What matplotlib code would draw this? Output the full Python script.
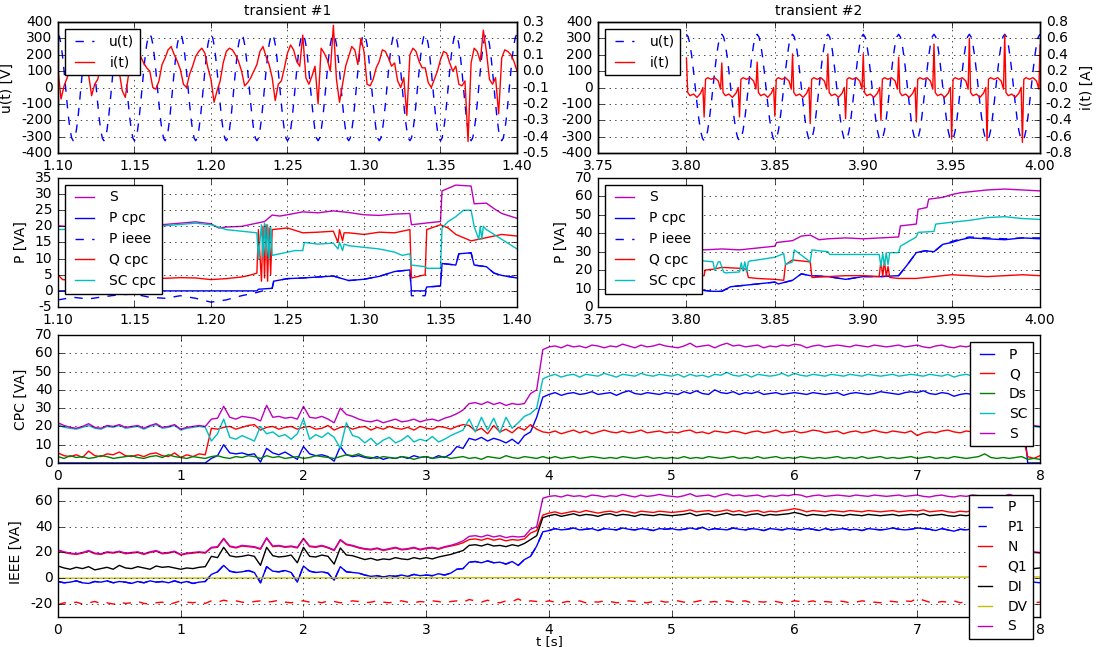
import matplotlib
matplotlib.use('Agg')
import matplotlib.pyplot as plt
import numpy as np

plt.style.use('classic')
plt.rcParams['font.size'] = 10
plt.rcParams['legend.fontsize'] = 10
plt.rcParams['axes.titlesize'] = 10
plt.rcParams['axes.unicode_minus'] = False
plt.rcParams['figure.facecolor'] = 'white'
plt.rcParams['savefig.facecolor'] = 'white'

# ---- top row: voltage / current waveforms ----
# one period of u(t) sampled every 1 ms (starting at a peak)
u_cycle = [325, 309, 263, 191, 100, 0, -100, -191, -263, -309,
           -325, -309, -263, -191, -100, 0, 100, 191, 263, 309]

# transient #1 current, every 2 ms from 1.10 s to 1.40 s
i1 = [0.01, -0.17, -0.09, -0.04, 0.02, 0.04, 0.08, 0.11, 0.09, 0.03,
      -0.02, -0.15, -0.08, -0.05, 0.03, 0.06, 0.10, 0.12, 0.07, 0.02,
      0.00, -0.12, -0.16, -0.03, 0.01, 0.07, 0.10, 0.09, 0.05, 0.02,
      0.00, -0.10, -0.11, -0.06, 0.04, 0.08, 0.13, 0.15, 0.10, 0.06,
      0.01, -0.08, -0.10, -0.02, 0.03, 0.09, 0.12, 0.14, 0.11, 0.02,
      -0.05, -0.19, -0.12, -0.06, 0.05, 0.12, 0.14, 0.13, 0.10, 0.06,
      0.00, -0.09, -0.07, -0.04, 0.00, 0.04, 0.12, 0.15, 0.09, 0.04,
      -0.04, -0.18, -0.08, -0.06, 0.02, 0.11, 0.16, 0.13, 0.06, 0.03,
      0.22, -0.04, -0.08, -0.03, 0.03, -0.20, 0.14, 0.11, 0.07, 0.00,
      0.28, -0.05, -0.19, -0.08, 0.03, 0.09, 0.15, 0.13, 0.04, 0.20,
      0.12, -0.08, -0.09, -0.05, 0.02, 0.06, 0.13, 0.12, 0.08, 0.03,
      0.05, -0.06, -0.10, -0.04, -0.27, 0.10, 0.14, 0.12, 0.06, 0.02,
      0.02, -0.07, -0.10, -0.05, 0.00, 0.07, 0.12, 0.11, 0.05, 0.00,
      0.03, -0.08, -0.09, -0.06, -0.43, 0.05, 0.14, 0.12, 0.06, 0.25,
      0.12, -0.05, -0.08, -0.04, -0.26, 0.08, 0.13, 0.12, 0.10, 0.06,
      0.00]

# transient #2 current: shape of one period (ms offsets) + spike heights per period
i2_off_ms = [0.0, 0.7, 2.0, 4.0, 6.0, 8.0, 9.3, 10.0, 10.8, 12.0, 14.0, 16.0, 18.0, 19.3]
i2_shape = [0.0, -0.06, -0.10, -0.08, -0.12, -0.07, 0.0, 0.0, 0.10, 0.12, 0.10, 0.12, 0.08, -0.02]
i2_pos_spike = [0.36, 0.30, 0.31, 0.41, 0.41, 0.41, 0.37, 0.53, 0.60, 0.64]
i2_neg_spike = [-0.36, -0.36, -0.35, -0.44, -0.38, -0.40, -0.42, -0.63, -0.65, -0.67]
i2_end = 0.52

# ---- second row: powers in the two transients ----
tr1_s_t = [1.100, 1.110, 1.120, 1.130, 1.140, 1.150, 1.160, 1.170, 1.180, 1.190,
           1.200, 1.205, 1.210, 1.220, 1.230, 1.235, 1.240, 1.245, 1.250, 1.260,
           1.270, 1.280, 1.290, 1.300, 1.310, 1.320, 1.330, 1.331, 1.340, 1.350,
           1.351, 1.360, 1.370, 1.372, 1.380, 1.385, 1.390, 1.400]
tr1_s = [20.2, 19.8, 19.6, 19.9, 19.8, 19.9, 20.3, 20.6, 21.0, 21.4,
         20.8, 19.5, 19.8, 20.0, 21.0, 21.5, 23.5, 23.2, 23.6, 24.5,
         24.2, 24.8, 24.3, 23.6, 23.4, 23.8, 24.0, 20.5, 21.0, 21.5,
         31.0, 32.8, 32.5, 27.0, 27.2, 25.5, 24.0, 22.5]
tr1_sc_t = [1.100, 1.120, 1.150, 1.170, 1.190, 1.200, 1.210, 1.220, 1.230, 1.231,
            1.233, 1.234, 1.235, 1.236, 1.237, 1.238, 1.239, 1.240, 1.245, 1.250,
            1.255, 1.260, 1.261, 1.270, 1.280, 1.283, 1.284, 1.286, 1.287, 1.290,
            1.300, 1.310, 1.320, 1.325, 1.330, 1.331, 1.340, 1.341, 1.350, 1.351,
            1.355, 1.360, 1.365, 1.370, 1.372, 1.375, 1.376, 1.377, 1.378, 1.380,
            1.390, 1.400]
tr1_sc = [19.0, 19.3, 19.8, 20.2, 21.0, 20.5, 19.0, 18.5, 18.0, 10.0,
          20.5, 10.5, 21.0, 11.0, 20.5, 10.0, 20.0, 11.0, 11.5, 12.0,
          12.5, 12.5, 15.0, 14.5, 14.8, 13.0, 15.0, 12.5, 14.5, 14.0,
          13.5, 13.0, 12.0, 11.0, 11.5, 8.0, 7.5, 7.0, 7.0, 19.5,
          21.5, 23.0, 25.0, 25.0, 20.0, 16.0, 20.0, 16.0, 20.0, 19.0,
          16.0, 13.0]
tr1_p_t = [1.100, 1.230, 1.231, 1.240, 1.241, 1.250, 1.260, 1.270, 1.280, 1.290,
           1.300, 1.310, 1.320, 1.330, 1.331, 1.340, 1.341, 1.350, 1.351, 1.360,
           1.362, 1.370, 1.372, 1.380, 1.385, 1.390, 1.400]
tr1_p = [0.0, 0.0, 0.5, 0.8, 3.0, 3.8, 4.0, 4.3, 4.6, 3.2,
         3.6, 4.5, 6.0, 6.5, 0.0, 0.0, 1.2, 1.5, 8.5, 8.0,
         11.5, 11.8, 8.0, 7.5, 5.5, 4.8, 4.0]
tr1_pi_t = [1.100, 1.110, 1.120, 1.130, 1.140, 1.150, 1.160, 1.170, 1.180, 1.190,
            1.200, 1.210, 1.220, 1.230, 1.240, 1.241, 1.250, 1.260, 1.270, 1.280,
            1.290, 1.300, 1.310, 1.320, 1.330, 1.331, 1.340, 1.341, 1.350, 1.351,
            1.360, 1.362, 1.370, 1.372, 1.380, 1.385, 1.390, 1.400]
tr1_pi = [-2.8, -2.0, -2.5, -1.8, -1.2, -1.0, -2.0, -2.3, -1.5, -2.3,
          -3.5, -2.8, -1.5, -0.5, 0.8, 3.0, 3.8, 4.0, 4.3, 4.6,
          3.2, 3.6, 4.5, 6.0, 6.5, -1.5, -1.5, 1.2, 1.5, 8.5,
          8.0, 11.5, 11.8, 8.0, 7.5, 5.5, 4.8, 4.0]
tr1_q_t = [1.100, 1.103, 1.110, 1.120, 1.130, 1.140, 1.150, 1.160, 1.170, 1.180,
           1.190, 1.200, 1.210, 1.220, 1.225, 1.230, 1.231, 1.233, 1.234, 1.235,
           1.236, 1.237, 1.238, 1.239, 1.240, 1.250, 1.260, 1.270, 1.280, 1.283,
           1.284, 1.286, 1.287, 1.290, 1.300, 1.310, 1.320, 1.330, 1.331, 1.340,
           1.341, 1.350, 1.355, 1.360, 1.370, 1.380, 1.390, 1.400]
tr1_q = [5.0, 3.5, 3.2, 2.8, 3.3, 3.2, 3.6, 3.8, 3.9, 4.1,
         4.0, 3.5, 3.8, 4.3, 4.8, 5.5, 19.0, 3.0, 20.0, 4.0,
         20.5, 3.0, 19.5, 5.0, 19.0, 19.5, 18.0, 18.2, 18.5, 15.0,
         19.0, 15.5, 18.0, 18.0, 17.5, 18.2, 18.0, 19.0, 4.0, 5.0,
         19.0, 20.5, 19.5, 17.5, 15.5, 16.5, 17.5, 17.0]

tr2_s_t = [3.800, 3.805, 3.810, 3.820, 3.830, 3.840, 3.850, 3.851, 3.860, 3.865,
           3.870, 3.875, 3.880, 3.890, 3.900, 3.910, 3.920, 3.921, 3.930, 3.931,
           3.936, 3.937, 3.945, 3.950, 3.955, 3.960, 3.970, 3.980, 3.990, 4.000]
tr2_s = [33.0, 32.0, 31.0, 31.5, 31.0, 32.0, 33.0, 35.0, 36.0, 38.5,
         39.0, 36.5, 37.0, 37.5, 37.0, 37.5, 38.0, 44.0, 45.0, 53.0,
         54.0, 58.5, 59.5, 61.0, 62.0, 62.5, 63.5, 64.0, 63.5, 63.0]
tr2_sc_t = [3.800, 3.810, 3.815, 3.816, 3.818, 3.819, 3.821, 3.822, 3.830, 3.831,
            3.832, 3.833, 3.834, 3.835, 3.836, 3.840, 3.850, 3.855, 3.856, 3.860,
            3.861, 3.870, 3.871, 3.875, 3.880, 3.881, 3.900, 3.909, 3.910, 3.911,
            3.912, 3.913, 3.914, 3.915, 3.920, 3.921, 3.930, 3.931, 3.940, 3.941,
            3.950, 3.960, 3.970, 3.980, 3.990, 4.000]
tr2_sc = [26.0, 25.0, 24.5, 20.0, 24.5, 24.5, 19.0, 18.5, 19.0, 24.0,
          19.5, 24.5, 19.0, 24.5, 25.0, 25.5, 27.0, 29.0, 23.0, 24.5,
          31.0, 24.5, 31.0, 30.5, 30.0, 28.5, 28.5, 28.5, 22.0, 29.0,
          22.5, 29.5, 23.0, 29.5, 29.5, 33.0, 38.0, 40.5, 41.0, 45.0,
          46.0, 47.0, 48.5, 49.0, 48.0, 47.5]
tr2_p_t = [3.800, 3.805, 3.810, 3.815, 3.820, 3.825, 3.830, 3.840, 3.850, 3.852,
           3.860, 3.865, 3.870, 3.880, 3.890, 3.900, 3.910, 3.920, 3.925, 3.930,
           3.935, 3.940, 3.945, 3.950, 3.955, 3.960, 3.970, 3.980, 3.990, 4.000]
tr2_p = [11.0, 10.0, 9.0, 8.5, 8.5, 11.0, 11.5, 12.5, 13.5, 12.5,
         14.5, 18.0, 17.0, 16.5, 15.0, 16.5, 16.5, 17.0, 23.0, 29.5,
         30.5, 30.0, 34.0, 35.0, 36.5, 37.5, 37.0, 36.5, 37.5, 37.0]
tr2_pi = [11.0, 10.0, 9.0, 8.5, 8.5, 11.0, 11.5, 12.5, 13.5, 12.5,
          14.5, 18.0, 17.0, 16.5, 15.0, 16.5, 16.5, 17.0, 23.0, 29.5,
          30.5, 30.0, 34.0, 35.5, 37.0, 38.0, 37.5, 37.0, 37.5, 37.5]
tr2_q_t = [3.800, 3.810, 3.8105, 3.815, 3.820, 3.830, 3.834, 3.835, 3.840, 3.850,
           3.855, 3.856, 3.860, 3.865, 3.870, 3.871, 3.880, 3.890, 3.900, 3.909,
           3.910, 3.911, 3.912, 3.913, 3.914, 3.915, 3.920, 3.930, 3.940, 3.950,
           3.960, 3.970, 3.980, 3.990, 4.000]
tr2_q = [17.0, 17.0, 20.0, 20.5, 21.5, 21.0, 20.5, 16.0, 15.5, 15.0,
         14.5, 23.0, 25.5, 25.0, 24.5, 16.0, 16.5, 17.0, 17.0, 16.5,
         25.0, 16.5, 25.0, 16.5, 22.0, 16.0, 15.5, 15.5, 16.5, 17.5,
         17.0, 16.5, 17.0, 17.5, 17.0]

# ---- full record 0..8 s, one value every 0.05 s ----
cpc_p = [0.0, 0.0, 0.0, 0.0, 0.0, 0.0, 0.0, 0.0, 0.0, 0.0, 0.0, 0.0, 0.0, 0.0, 0.0, 0.0, 0.0, 0.0, 0.0, 0.0,
         0.0, 0.0, 0.0, 0.0, 0.0, 2.5, 4.0, 10.0, 5.5, 5.0, 5.5, 4.5, 5.0, 0.5, 8.0, 5.5, 4.5, 6.0, 4.0, 2.0,
         9.0, 5.0, 4.0, 4.5, 3.5, 1.0, 9.0, 4.5, 3.5, 4.0, 3.0, 2.5, 3.5, 2.0, 3.0, 2.5, 3.5, 2.5, 4.0, 3.0,
         3.5, 2.5, 4.0, 3.0, 5.0, 9.0, 8.0, 13.5, 12.5, 14.0, 12.0, 13.5, 12.5, 11.0, 13.0, 10.5, 15.0, 17.0, 25.0, 36.0,
         37.5, 38.5, 37.0, 38.0, 38.5, 37.5, 38.0, 39.0, 37.5, 38.0, 38.5, 37.0, 38.5, 39.5, 38.0, 37.5, 38.5, 38.0, 37.5, 38.5,
         38.0, 37.5, 39.0, 38.0, 39.5, 38.0, 37.5, 40.0, 38.5, 38.0, 39.0, 37.5, 38.5, 38.0, 39.0, 37.5, 38.0, 38.5, 37.5, 38.0,
         38.5, 38.0, 37.5, 38.5, 38.0, 37.5, 38.0, 38.5, 37.0, 38.0, 38.5, 38.0, 37.5, 38.0, 39.0, 38.5, 38.0, 37.5, 38.5, 39.0,
         38.5, 39.5, 38.0, 37.5, 38.5, 38.0, 36.5, 37.5, 38.0, 37.5, 38.0, 38.5, 37.0, 37.5, 38.0, 37.5, 38.0, 37.5,
         0.0, 0.0, 0.0]
cpc_q = [5.5, 4.0, 3.5, 4.5, 3.0, 6.5, 4.0, 3.5, 5.0, 4.5, 6.0, 4.0, 3.5, 4.5, 3.5, 5.0, 5.5, 4.0, 3.5, 5.5,
         3.0, 4.5, 3.5, 5.0, 4.5, 19.0, 18.5, 19.5, 20.0, 18.5, 19.5, 20.5, 21.0, 18.0, 19.5, 20.0, 18.5, 19.5, 20.0, 18.5,
         19.5, 20.0, 18.5, 19.0, 20.5, 18.0, 19.5, 20.0, 18.5, 19.5, 20.0, 18.0, 19.5, 18.5, 20.0, 19.0, 18.5, 19.5, 18.0, 20.0,
         19.0, 18.5, 20.0, 19.5, 18.5, 20.0, 21.0, 20.5, 17.5, 19.0, 16.0, 20.5, 17.0, 18.5, 16.5, 19.5, 18.0, 21.0, 18.5, 17.0,
         16.5, 17.5, 16.0, 17.0, 18.0, 16.5, 17.5, 16.0, 17.0, 18.0, 17.0, 16.5, 17.5, 16.5, 17.0, 18.0, 16.5, 17.0, 17.5, 16.5,
         17.0, 16.5, 17.5, 18.0, 16.5, 17.0, 16.0, 17.5, 17.0, 16.5, 17.5, 17.0, 16.0, 17.0, 17.5, 16.5, 17.0, 18.0, 16.5, 17.0,
         17.5, 16.5, 17.0, 18.0, 17.5, 16.5, 17.0, 17.5, 16.0, 17.0, 17.5, 16.5, 17.0, 18.0, 17.0, 16.5, 17.5, 17.0, 16.5, 17.5,
         15.0, 16.5, 17.0, 16.5, 17.5, 18.0, 17.0, 16.5, 17.5, 17.0, 16.0, 17.0, 17.5, 16.5, 17.0, 17.5, 16.5, 17.0,
         3.5, 2.5, 4.0]
cpc_ds = [3.5, 2.5, 4.0, 3.0, 3.5, 2.5, 3.0, 4.0, 3.5, 2.5, 3.0, 3.5, 4.0, 3.0, 2.5, 3.5, 4.0, 3.0, 4.5, 3.5,
          3.0, 2.5, 3.5, 3.0, 2.5, 3.5, 4.0, 3.0, 2.5, 3.5, 3.0, 4.0, 3.5, 2.5, 4.0, 3.0, 3.5, 2.5, 3.0, 3.5,
          2.5, 3.0, 4.0, 3.5, 3.0, 2.5, 3.5, 4.5, 4.0, 5.0, 3.5, 3.0, 2.5, 3.5, 3.0, 2.5, 3.5, 3.0, 2.0, 3.0,
          3.5, 2.5, 3.0, 3.5, 2.5, 3.0, 3.5, 2.5, 3.0, 2.0, 3.5, 3.0, 2.5, 4.0, 3.0, 2.5, 3.5, 3.0, 2.5, 3.5,
          2.5, 3.5, 2.5, 3.0, 3.5, 2.5, 3.0, 3.5, 3.0, 2.5, 3.0, 2.5, 3.5, 3.0, 2.5, 3.0, 3.5, 2.5, 3.0, 2.5,
          3.0, 2.5, 3.5, 2.5, 3.0, 2.5, 3.5, 3.0, 2.5, 3.0, 3.5, 2.5, 3.0, 2.5, 3.5, 2.5, 3.0, 3.5, 2.5, 3.0,
          2.5, 3.5, 3.0, 2.5, 3.0, 2.5, 3.0, 3.5, 2.5, 3.0, 2.5, 3.5, 2.5, 3.0, 3.5, 2.5, 3.0, 2.5, 3.0, 3.5,
          2.5, 3.0, 3.5, 2.5, 3.0, 2.5, 3.5, 3.0, 2.5, 3.0, 3.5, 5.0, 3.0, 2.5, 3.0, 2.5, 3.0, 3.5,
          2.0, 2.5, 2.0]
cpc_sc = [21.0, 19.5, 19.0, 18.5, 19.5, 20.5, 19.0, 18.5, 20.0, 19.5, 20.5, 19.0, 19.5, 20.0, 18.5, 20.0, 21.0, 19.0, 19.5, 20.5,
          18.0, 19.0, 19.5, 20.0, 19.5, 12.0, 16.0, 24.0, 14.0, 13.0, 15.0, 13.5, 12.0, 20.0, 16.0, 17.0, 14.5, 15.5, 13.0, 16.0,
          24.0, 13.0, 15.5, 14.0, 16.5, 14.0, 8.0, 22.0, 15.0, 14.0, 11.0, 13.5, 10.0, 12.5, 14.0, 11.0, 12.5, 15.0, 11.5, 13.0,
          12.0, 14.5, 11.5, 13.0, 15.0, 16.5, 18.0, 24.0, 17.0, 25.0, 18.0, 24.5, 16.5, 25.0, 19.0, 22.0, 25.5, 27.0, 30.0, 46.0,
          47.5, 48.5, 47.0, 48.0, 48.5, 47.0, 48.5, 48.0, 47.5, 49.0, 48.0, 47.0, 48.5, 48.0, 47.5, 49.0, 48.0, 47.5, 48.5, 48.0,
          47.5, 48.5, 47.0, 48.5, 47.5, 48.0, 47.0, 48.5, 48.0, 49.5, 48.0, 47.5, 48.5, 47.0, 48.5, 48.0, 47.5, 48.0, 49.0, 47.5,
          49.0, 48.0, 47.5, 48.5, 48.0, 47.5, 48.5, 48.0, 47.5, 48.5, 48.0, 47.5, 48.5, 48.0, 47.5, 48.0, 48.5, 47.5, 48.0, 48.5,
          48.0, 47.5, 48.5, 48.0, 47.5, 48.5, 47.0, 48.0, 48.5, 47.5, 48.0, 48.5, 47.5, 48.0, 48.5, 47.5, 48.0, 47.5,
          19.5, 20.0, 19.5]
full_s = [22.0, 20.5, 19.5, 19.0, 20.0, 21.5, 19.5, 19.0, 20.5, 20.0, 21.0, 19.5, 20.0, 20.5, 19.0, 20.5, 21.5, 19.5, 20.0, 21.0,
          18.5, 19.5, 20.0, 20.5, 20.0, 24.0, 24.5, 31.0, 25.0, 24.0, 25.5, 25.0, 24.5, 23.0, 31.5, 25.0, 25.5, 24.5, 25.0, 24.0,
          31.0, 25.0, 24.5, 25.5, 24.0, 22.0, 30.0, 26.5, 25.5, 24.0, 23.0, 22.5, 23.5, 22.0, 23.0, 24.0, 22.5, 23.0, 24.0, 22.5,
          23.5, 24.0, 23.0, 24.5, 25.5, 27.0, 29.0, 32.5, 33.0, 32.0, 33.5, 32.0, 33.0, 31.5, 32.5, 32.0, 32.5, 38.0, 40.0, 62.0,
          63.5, 64.0, 63.0, 64.5, 63.5, 64.0, 63.0, 64.5, 64.0, 63.0, 64.0, 63.5, 65.0, 64.0, 63.0, 64.5, 63.5, 64.0, 65.0, 64.0,
          63.5, 63.0, 64.0, 65.5, 63.5, 64.0, 64.5, 63.0, 64.5, 65.5, 64.0, 64.5, 63.5, 64.0, 64.5, 63.0, 64.0, 63.5, 64.5, 64.0,
          65.0, 64.5, 63.0, 64.0, 64.5, 63.5, 64.0, 64.5, 64.0, 63.5, 64.5, 64.0, 63.5, 64.5, 64.0, 63.5, 64.0, 64.5, 63.5, 64.0,
          64.5, 63.5, 63.0, 64.0, 64.5, 63.5, 63.0, 64.0, 63.5, 64.5, 64.0, 63.0, 63.5, 64.0, 63.5, 65.0, 63.5, 64.0,
          20.0, 20.5, 20.0]
ieee_p = [-2.5, -3.5, -3.0, -2.0, -3.5, -4.0, -2.5, -3.0, -2.0, -3.5, -2.5, -3.0, -4.0, -2.5, -3.5, -2.0, -3.0, -2.5, -3.5, -2.0,
          -3.5, -2.5, -4.0, -3.0, -2.5, 3.0, 5.0, 10.0, 5.5, 4.5, 5.0, 6.0, 4.5, -3.5, 9.0, 5.5, 5.0, 6.0, 4.5, -3.0,
          9.5, 5.5, 4.5, 5.0, 4.0, -1.5, 9.0, 5.0, 4.5, 4.0, 2.5, 1.5, 2.0, 1.0, 2.0, 1.5, 2.5, 1.5, 3.0, 2.0,
          2.5, 2.0, 3.5, 2.5, 4.0, 7.0, 7.5, 12.5, 13.0, 12.0, 13.5, 12.0, 12.5, 11.0, 13.0, 10.0, 14.5, 17.0, 25.0, 36.0,
          37.0, 38.5, 37.5, 38.0, 39.0, 37.5, 38.0, 38.5, 37.0, 38.5, 38.0, 37.5, 39.0, 38.0, 37.5, 38.5, 38.0, 37.0, 38.5, 38.0,
          38.5, 37.5, 38.0, 39.0, 38.0, 39.5, 37.5, 38.5, 38.0, 37.5, 39.0, 38.0, 37.5, 38.5, 38.0, 37.0, 38.5, 38.0, 37.5, 38.5,
          38.0, 37.5, 38.5, 38.0, 37.0, 38.5, 37.5, 38.0, 38.5, 37.5, 38.0, 37.0, 38.5, 38.0, 37.5, 38.0, 39.0, 38.0, 37.5, 38.0,
          39.0, 38.5, 38.0, 37.0, 38.5, 37.5, 36.5, 38.0, 37.5, 38.5, 37.5, 38.0, 37.5, 36.5, 38.0, 37.5, 37.0, 38.0,
          -3.5, -3.0, -3.5]
ieee_n = [21.5, 20.0, 19.0, 18.5, 19.5, 21.0, 19.0, 18.5, 20.0, 19.5, 20.5, 19.0, 19.5, 20.0, 18.5, 20.0, 21.0, 19.0, 19.5, 20.5,
          18.0, 19.0, 19.5, 20.0, 19.5, 23.5, 24.0, 30.5, 24.5, 23.5, 25.0, 24.5, 24.0, 22.5, 31.0, 24.5, 25.0, 24.0, 24.5, 23.5,
          30.5, 24.5, 24.0, 25.0, 23.5, 21.5, 29.5, 26.0, 25.0, 23.5, 22.5, 22.0, 23.0, 21.5, 22.5, 23.5, 22.0, 22.5, 23.5, 22.0,
          23.0, 23.5, 22.5, 24.0, 25.0, 26.0, 27.5, 30.0, 30.5, 29.5, 31.0, 29.5, 30.5, 29.0, 30.0, 29.5, 30.5, 35.0, 37.0, 49.0,
          50.5, 51.5, 50.0, 51.0, 52.0, 51.0, 52.5, 51.5, 50.5, 51.5, 52.0, 51.0, 52.5, 51.5, 50.5, 52.0, 51.5, 51.0, 52.0, 51.5,
          51.0, 51.5, 52.0, 53.0, 51.5, 52.0, 52.5, 51.5, 52.0, 53.0, 51.5, 52.5, 51.0, 52.0, 52.5, 51.0, 52.0, 51.5, 52.5, 53.0,
          54.0, 53.0, 51.5, 52.5, 52.0, 51.5, 52.5, 52.0, 51.5, 52.5, 52.0, 51.5, 52.5, 52.0, 51.5, 52.0, 52.5, 51.5, 52.0, 52.5,
          52.0, 53.0, 51.5, 52.0, 52.5, 51.5, 51.0, 52.0, 51.5, 52.5, 52.0, 51.0, 51.5, 52.0, 51.5, 52.5, 51.5, 52.0,
          19.5, 20.0, 19.5]
ieee_q1 = [-20.5, -19.0, -19.5, -18.5, -20.0, -19.0, -18.0, -19.5, -19.0, -20.0, -18.5, -19.5, -19.0, -18.0, -19.5, -20.0, -19.0, -18.5, -20.5, -19.0,
           -17.5, -18.5, -19.0, -18.0, -19.5, -17.5, -18.5, -17.0, -18.0, -17.5, -18.5, -19.0, -18.0, -17.5, -18.5, -18.0, -17.0, -18.5, -19.0, -18.0,
           -17.5, -18.5, -18.0, -19.0, -17.5, -18.0, -19.0, -18.5, -17.5, -18.0, -19.0, -18.5, -17.5, -18.5, -19.0, -18.0, -17.5, -18.5, -19.0, -18.0,
           -18.5, -17.5, -18.0, -19.0, -18.0, -17.5, -18.5, -16.5, -17.5, -18.5, -17.0, -18.5, -19.0, -17.5, -18.0, -16.0, -18.5, -17.5, -18.0, -18.5,
           -17.5, -18.5, -19.0, -18.0, -18.5, -17.5, -19.0, -18.0, -18.5, -17.5, -18.0, -19.0, -18.5, -17.5, -18.0, -18.5, -19.0, -18.0, -17.5, -18.5,
           -18.0, -17.5, -18.5, -19.0, -18.0, -17.0, -18.5, -18.0, -19.0, -17.5, -18.5, -18.0, -17.5, -19.0, -18.0, -18.5, -17.5, -18.0, -19.0, -18.5,
           -17.5, -18.0, -18.5, -17.5, -19.0, -18.0, -18.5, -17.5, -18.0, -19.0, -18.5, -17.5, -18.0, -18.5, -19.0, -17.5, -18.0, -18.5, -17.5, -18.0,
           -15.5, -17.0, -18.5, -19.0, -18.0, -18.5, -17.5, -19.0, -18.0, -18.5, -17.5, -18.0, -19.0, -18.5, -18.0, -17.5, -18.5, -18.0,
           -18.5, -19.0, -18.5]
ieee_di = [9.5, 8.0, 7.0, 8.5, 7.5, 9.0, 6.5, 7.5, 8.5, 7.0, 10.0, 8.0, 7.5, 9.0, 8.0, 7.0, 9.5, 8.5, 9.0, 8.0,
           7.0, 8.0, 7.5, 8.5, 9.0, 17.0, 16.0, 24.0, 17.5, 16.5, 17.0, 18.0, 17.0, 10.0, 24.0, 17.5, 16.5, 17.0, 18.0, 12.0,
           24.0, 17.0, 16.5, 18.0, 17.0, 11.0, 23.5, 18.0, 17.5, 16.0, 14.5, 15.5, 14.0, 15.0, 14.5, 16.0, 15.0, 14.5, 16.0, 15.0,
           16.0, 15.0, 16.5, 17.5, 18.5, 20.0, 21.5, 25.5, 26.0, 25.0, 26.5, 25.0, 25.5, 24.5, 26.0, 25.0, 27.0, 30.0, 33.0, 47.0,
           48.5, 49.5, 48.0, 49.0, 50.0, 48.5, 49.5, 49.0, 48.0, 49.5, 50.0, 48.5, 49.5, 49.0, 48.0, 49.5, 49.0, 48.5, 49.5, 49.0,
           48.5, 49.0, 49.5, 50.5, 48.5, 49.5, 50.0, 48.5, 49.5, 50.5, 49.0, 49.5, 48.5, 49.5, 50.0, 48.5, 49.5, 49.0, 49.5, 50.0,
           51.0, 50.0, 48.5, 49.5, 49.0, 48.5, 49.5, 49.0, 48.5, 49.5, 49.0, 48.5, 49.5, 49.0, 48.5, 49.0, 49.5, 48.5, 49.0, 49.5,
           49.0, 50.0, 48.5, 49.0, 49.5, 48.5, 48.0, 49.0, 48.5, 49.5, 49.0, 48.0, 48.5, 49.0, 48.5, 49.5, 48.5, 49.0,
           8.0, 7.5, 8.0]
dv_t = [0.0, 4.0, 8.0]
ieee_dv = [0.0, 0.5, 1.0]

# ---------------- figure ----------------
fig = plt.figure(figsize=(11.04, 6.47), dpi=100)

# transient #1 u/i
u1 = np.append(np.tile(u_cycle, 15), u_cycle[0])
tu1 = np.linspace(1.10, 1.40, len(u1))
ti1 = np.linspace(1.10, 1.40, len(i1))

ax1 = fig.add_axes([0.0525, 0.7635, 0.4158, 0.2025])
l1, = ax1.plot(tu1, u1, 'b--', label='u(t)')
ax1.set_xlim(1.10, 1.40)
ax1.set_ylim(-400, 400)
ax1.set_yticks(np.arange(-400, 401, 100))
ax1.set_ylabel('u(t) [V]')
ax1.set_title('transient #1')
ax1.grid(True)
ax1b = ax1.twinx()
l2, = ax1b.plot(ti1, i1, 'r-', label='i(t)')
ax1b.set_ylim(-0.5, 0.3)
ax1b.set_yticks(np.arange(-0.5, 0.31, 0.1))
ax1b.set_xlim(1.10, 1.40)
ax1b.legend([l1, l2], ['u(t)', 'i(t)'], loc='upper left')

# transient #2 u/i
u2 = np.append(np.tile(u_cycle, 10), u_cycle[0])
tu2 = np.linspace(3.80, 4.00, len(u2))
ti2, i2 = [], []
for k in range(len(i2_pos_spike)):
    for j, off in enumerate(i2_off_ms):
        v = i2_shape[j]
        if j == 0:
            v = i2_pos_spike[k]
        elif j == 7:
            v = i2_neg_spike[k]
        ti2.append(3.80 + 0.02 * k + off / 1000.0)
        i2.append(v)
ti2.append(4.00)
i2.append(i2_end)

ax2 = fig.add_axes([0.5417, 0.7635, 0.4004, 0.2025])
l3, = ax2.plot(tu2, u2, 'b--', label='u(t)')
ax2.set_xlim(3.75, 4.00)
ax2.set_ylim(-400, 400)
ax2.set_yticks(np.arange(-400, 401, 100))
ax2.set_title('transient #2')
ax2.grid(True)
ax2b = ax2.twinx()
l4, = ax2b.plot(ti2, i2, 'r-', label='i(t)')
ax2b.set_ylim(-0.8, 0.8)
ax2b.set_yticks(np.arange(-0.8, 0.81, 0.2))
ax2b.set_xlim(3.75, 4.00)
ax2b.set_ylabel('i(t) [A]')
ax2b.legend([l3, l4], ['u(t)', 'i(t)'], loc='upper left')

# powers, transient #1
ax3 = fig.add_axes([0.0525, 0.5255, 0.4158, 0.1994])
ax3.plot(tr1_s_t, tr1_s, 'm-', label='S')
ax3.plot(tr1_p_t, tr1_p, 'b-', label='P cpc')
ax3.plot(tr1_pi_t, tr1_pi, 'b--', label='P ieee')
ax3.plot(tr1_q_t, tr1_q, 'r-', label='Q cpc')
ax3.plot(tr1_sc_t, tr1_sc, 'c-', label='SC cpc')
ax3.set_xlim(1.10, 1.40)
ax3.set_ylim(-5, 35)
ax3.set_yticks(np.arange(-5, 36, 5))
ax3.set_ylabel('P [VA]')
ax3.grid(True)
ax3.legend(loc='upper left')

# powers, transient #2
ax4 = fig.add_axes([0.5417, 0.5255, 0.4004, 0.1994])
ax4.plot(tr2_s_t, tr2_s, 'm-', label='S')
ax4.plot(tr2_p_t, tr2_p, 'b-', label='P cpc')
ax4.plot(tr2_p_t, tr2_pi, 'b--', label='P ieee')
ax4.plot(tr2_q_t, tr2_q, 'r-', label='Q cpc')
ax4.plot(tr2_sc_t, tr2_sc, 'c-', label='SC cpc')
ax4.set_xlim(3.75, 4.00)
ax4.set_ylim(0, 70)
ax4.set_ylabel('P [VA]')
ax4.grid(True)
ax4.legend(loc='upper left')

# CPC decomposition, whole record
t_all = np.linspace(0.0, 8.0, len(full_s))
ax5 = fig.add_axes([0.0525, 0.2844, 0.8895, 0.1978])
ax5.plot(t_all, cpc_p, 'b-', label='P')
ax5.plot(t_all, cpc_q, 'r-', label='Q')
ax5.plot(t_all, cpc_ds, 'g-', label='Ds')
ax5.plot(t_all, cpc_sc, 'c-', label='SC')
ax5.plot(t_all, full_s, 'm-', label='S')
ax5.set_xlim(0, 8)
ax5.set_ylim(0, 70)
ax5.set_ylabel('CPC [VA]')
ax5.grid(True)
ax5.legend(loc='upper right', handlelength=1.6, labelspacing=0.42)

# IEEE 1459 decomposition, whole record
ax6 = fig.add_axes([0.0525, 0.0464, 0.8895, 0.1994])
ax6.plot(t_all, ieee_p, 'b-', label='P')
ax6.plot(t_all, ieee_p, 'b--', label='P1')
ax6.plot(t_all, ieee_n, 'r-', label='N')
ax6.plot(t_all, ieee_q1, 'r--', label='Q1')
ax6.plot(t_all, ieee_di, 'k-', label='DI')
ax6.plot(dv_t, ieee_dv, 'y-', label='DV')
ax6.plot(t_all, full_s, 'm-', label='S')
ax6.set_xlim(0, 8)
ax6.set_ylim(-30, 70)
ax6.set_yticks([-20, 0, 20, 40, 60])
ax6.set_ylabel('IEEE [VA]')
ax6.set_xlabel('t [s]', fontsize=9.5)
ax6.xaxis.set_label_coords(0.5, -0.14)
ax6.grid(True)
ax6.legend(loc='upper right', handlelength=1.6, labelspacing=0.42)

fig.savefig('out.png', dpi=100)
